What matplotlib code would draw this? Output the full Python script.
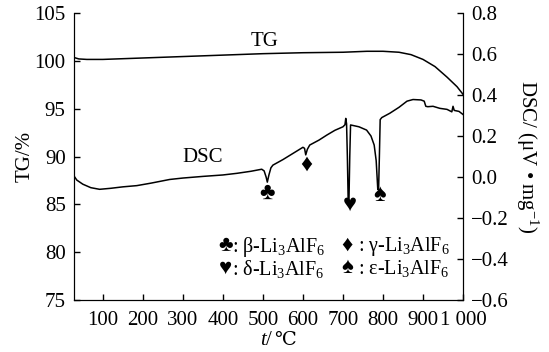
import matplotlib
matplotlib.use("Agg")
import matplotlib.pyplot as plt

plt.rcParams['font.family'] = ['Liberation Serif', 'DejaVu Sans']
plt.rcParams['mathtext.fontset'] = 'custom'
plt.rcParams['mathtext.rm'] = 'Liberation Serif'
plt.rcParams['mathtext.it'] = 'Liberation Serif:italic'
plt.rcParams['mathtext.fallback'] = 'stix'

# TG curve (temperature in C, mass in %)
tg_temp = [28, 40, 60, 100, 200, 300, 400, 500, 600, 700, 760, 800,
           840, 870, 900, 930, 960, 985, 1000]
tg_mass = [100.35, 100.2, 100.15, 100.15, 100.3, 100.45, 100.6, 100.75,
           100.85, 100.9, 101.0, 101.0, 100.9, 100.65, 100.15, 99.4,
           98.3, 97.3, 96.5]

# DSC curve (temperature in C, uV/mg)
dsc_temp = [28, 35, 50, 70, 92, 120, 150, 185, 220, 267, 300, 350, 400,
            435, 470, 497, 503, 508, 511, 515, 520, 525, 550, 575, 600,
            604, 607, 611, 617, 640, 660, 680, 700, 705, 707, 709, 711,
            713, 715, 717, 719, 740, 759, 770, 778, 783, 787, 789, 791,
            793, 797, 817, 840, 860, 875, 895, 903, 907, 912, 925, 942,
            960, 972, 975, 978, 990, 1000]
dsc_val = [0.005, -0.015, -0.035, -0.052, -0.06, -0.055, -0.048, -0.042,
           -0.03, -0.012, -0.005, 0.003, 0.01, 0.018, 0.028, 0.038, 0.03,
           0.0, -0.025, 0.01, 0.045, 0.058, 0.085, 0.115, 0.145, 0.14,
           0.108, 0.135, 0.156, 0.18, 0.205, 0.228, 0.245, 0.255, 0.286,
           0.26, 0.1, -0.112, -0.112, 0.1, 0.254, 0.245, 0.229, 0.2, 0.156,
           0.08, -0.06, -0.063, 0.1, 0.28, 0.29, 0.311, 0.34, 0.37, 0.378,
           0.376, 0.37, 0.345, 0.343, 0.345, 0.335, 0.33, 0.318, 0.345,
           0.325, 0.32, 0.305]

# phase markers on the DSC curve
phase_symbols = ['\u2663', '\u2666', '\u2665', '\u2660']
phase_temp = [511, 607, 717, 791]
phase_dsc = [-0.08, 0.059, -0.137, -0.088]
phase_names = ['\u03b2', '\u03b3', '\u03b4', '\u03b5']

x_ticks = [100, 200, 300, 400, 500, 600, 700, 800, 900, 1000]
x_ticklabels = ['100', '200', '300', '400', '500', '600', '700', '800',
                '900', '1 000']

fig = plt.figure(figsize=(5.49, 3.52), dpi=100)
ax = fig.add_axes([0.1348, 0.1477, 0.7086, 0.8153])
ax2 = ax.twinx()

ax.plot(tg_temp, tg_mass, color='black', lw=1.1)
ax2.plot(dsc_temp, dsc_val, color='black', lw=1.1)

ax.set_xlim(28, 1000)
ax.set_ylim(75, 105)
ax2.set_ylim(-0.6, 0.8)

ax.set_xticks(x_ticks)
ax.set_xticklabels(x_ticklabels)
ax.set_yticks(range(75, 106, 5))
ax2.set_yticks([-0.6, -0.4, -0.2, 0.0, 0.2, 0.4, 0.6, 0.8])
ax2.set_yticklabels(['\u22120.6', '\u22120.4', '\u22120.2', '0.0', '0.2',
                     '0.4', '0.6', '0.8'])

for a in (ax, ax2):
    a.spines['top'].set_visible(False)
    a.tick_params(direction='in', length=4, width=1, labelsize=15, pad=6)
ax.tick_params(axis='x', pad=8)

ax.set_ylabel('TG/%', fontsize=15, labelpad=0)
ax2.set_ylabel('DSC/ (\u03bcV \u2022 mg$^{-1}$)', fontsize=15,
               rotation=270, labelpad=22)

# x label: italic t, then the degree Celsius sign from DejaVu
fig.text(0.499, 0.034, '$t$/', fontsize=15, ha='right', va='center')
fig.text(0.499, 0.034, '\u2103', fontsize=14, ha='left', va='center',
         family='DejaVu Serif')

ax.text(505, 102.0, 'TG', fontsize=15, ha='center', va='center')
ax2.text(350, 0.095, 'DSC', fontsize=15, ha='center', va='center')

for sym, t, d in zip(phase_symbols, phase_temp, phase_dsc):
    ax2.text(t, d, sym, fontsize=17, ha='center', va='center')

# legend for the phase symbols
legend_x = [407, 710, 407, 710]
legend_y = [-0.34, -0.34, -0.448, -0.448]
legend_sep = [':', ' :', ':', ' :']
for sym, name, sep, lx, ly in zip(phase_symbols, phase_names, legend_sep,
                                  legend_x, legend_y):
    ax2.text(lx, ly, sym, fontsize=16, ha='center', va='center')
    ax2.text(lx + 16, ly, sep + ' ' + name + '-Li$_3$AlF$_6$', fontsize=14.5,
             ha='left', va='center')

fig.savefig('out.png', dpi=100)
